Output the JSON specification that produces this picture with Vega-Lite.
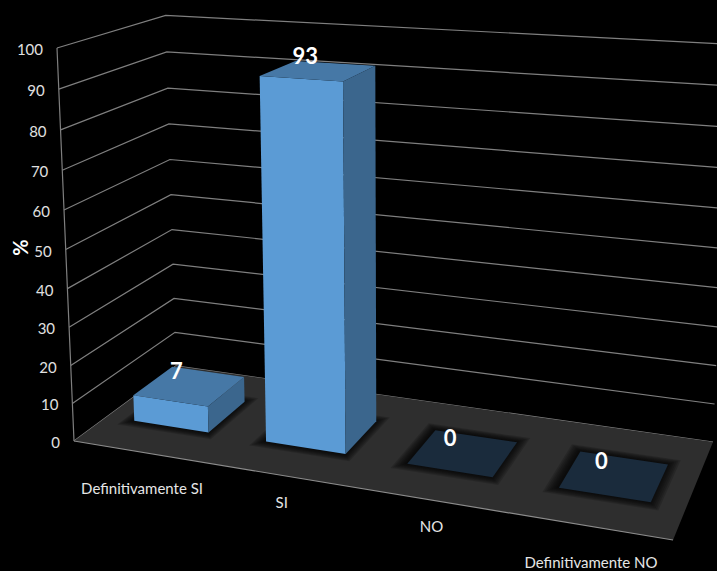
{
"$schema":"https://vega.github.io/schema/vega-lite/v6.json",
"width":717,"height":571,"padding":0,"autosize":{"type":"none"},
"background":"#000000",
"config":{"view":{"stroke":null},"text":{"font":"Lato"}},
"datasets":{
"marcas":[{"marca":0},{"marca":10},{"marca":20},{"marca":30},{"marca":40},{"marca":50},{"marca":60},{"marca":70},{"marca":80},{"marca":90},{"marca":100}],
"respuestas":[{"categoria":"Definitivamente SI","valor":7},{"categoria":"SI","valor":93},{"categoria":"NO","valor":0},{"categoria":"Definitivamente NO","valor":0}]
},
"encoding":{
"x":{"field":"px","type":"quantitative","scale":{"domain":[0,717]},"axis":null},
"y":{"field":"py","type":"quantitative","scale":{"domain":[571,0]},"axis":null}
},
"layer":[
{"data":{"name":"marcas"},
"transform":[
{"calculate":"[[0,0,0],[0,1,1],[1,1,2]]","as":"p"},{"flatten":["p"]},
{"calculate":"datum.p[0]","as":"u"},{"calculate":"datum.p[1]","as":"w"},{"calculate":"datum.p[2]","as":"o"},{"calculate":"datum.marca/100","as":"v"},
{"calculate":"(506.7*datum.u+124.1*datum.w+74-19.85*datum.v)/(1-0.1372*datum.u+0.1257*datum.w-0.05*datum.v)","as":"px"},
{"calculate":"(24.9*datum.u-29*datum.w+441-395.4*datum.v)/(1-0.1372*datum.u+0.1257*datum.w-0.05*datum.v)","as":"py"}],
"mark":{"type":"line","stroke":"#7f7f7f","strokeWidth":1.2,"clip":true},
"encoding":{"detail":{"field":"marca"},"order":{"field":"o","type":"quantitative"}}},
{"data":{"name":"marcas"},
"transform":[{"filter":"datum.marca===0"},
{"calculate":"[[0,0,0],[1,0,1],[1,1,2],[0,1,3]]","as":"p"},{"flatten":["p"]},
{"calculate":"datum.p[0]","as":"u"},{"calculate":"datum.p[1]","as":"w"},{"calculate":"datum.p[2]","as":"o"},{"calculate":"0","as":"v"},
{"calculate":"(506.7*datum.u+124.1*datum.w+74-19.85*datum.v)/(1-0.1372*datum.u+0.1257*datum.w-0.05*datum.v)","as":"px"},
{"calculate":"(24.9*datum.u-29*datum.w+441-395.4*datum.v)/(1-0.1372*datum.u+0.1257*datum.w-0.05*datum.v)","as":"py"}],
"mark":{"type":"line","fill":"#2e2e2e","strokeWidth":0,"clip":true},
"encoding":{"order":{"field":"o","type":"quantitative"}}},
{"data":{"name":"marcas"},
"transform":[{"filter":"datum.marca===0"},
{"calculate":"[[0,0,0],[1,0,1]]","as":"p"},{"flatten":["p"]},
{"calculate":"datum.p[0]","as":"u"},{"calculate":"datum.p[1]","as":"w"},{"calculate":"datum.p[2]","as":"o"},{"calculate":"0","as":"v"},
{"calculate":"(506.7*datum.u+124.1*datum.w+74-19.85*datum.v)/(1-0.1372*datum.u+0.1257*datum.w-0.05*datum.v)","as":"px"},
{"calculate":"(24.9*datum.u-29*datum.w+441-395.4*datum.v)/(1-0.1372*datum.u+0.1257*datum.w-0.05*datum.v)","as":"py"}],
"mark":{"type":"line","stroke":"#8c8c8c","strokeWidth":1.2,"clip":true},
"encoding":{"order":{"field":"o","type":"quantitative"}}},
{"data":{"name":"marcas"},
"transform":[{"calculate":"0","as":"u"},{"calculate":"0","as":"w"},{"calculate":"datum.marca/100","as":"v"},
{"calculate":"(506.7*datum.u+124.1*datum.w+74-19.85*datum.v)/(1-0.1372*datum.u+0.1257*datum.w-0.05*datum.v)","as":"px"},
{"calculate":"(24.9*datum.u-29*datum.w+441-395.4*datum.v)/(1-0.1372*datum.u+0.1257*datum.w-0.05*datum.v)","as":"py"}],
"mark":{"type":"line","stroke":"#7f7f7f","strokeWidth":1.2},
"encoding":{"order":{"field":"marca","type":"quantitative"}}},
{"data":{"name":"marcas"},
"transform":[{"calculate":"0","as":"u"},{"calculate":"0","as":"w"},{"calculate":"datum.marca/100","as":"v"},
{"calculate":"(506.7*datum.u+124.1*datum.w+74-19.85*datum.v)/(1-0.1372*datum.u+0.1257*datum.w-0.05*datum.v)","as":"px"},
{"calculate":"(24.9*datum.u-29*datum.w+441-395.4*datum.v)/(1-0.1372*datum.u+0.1257*datum.w-0.05*datum.v)","as":"py"}],
"mark":{"type":"text","align":"right","baseline":"middle","dx":-14,"dy":2,"fontSize":15,"fill":"#e0e0e0"},
"encoding":{"text":{"field":"marca","type":"quantitative"}}},
{"data":{"name":"marcas"},
"transform":[{"filter":"datum.marca===50"},{"calculate":"0","as":"u"},{"calculate":"0","as":"w"},{"calculate":"datum.marca/100","as":"v"},{"calculate":"'%'","as":"titulo"},
{"calculate":"(506.7*datum.u+124.1*datum.w+74-19.85*datum.v)/(1-0.1372*datum.u+0.1257*datum.w-0.05*datum.v)","as":"px"},
{"calculate":"(24.9*datum.u-29*datum.w+441-395.4*datum.v)/(1-0.1372*datum.u+0.1257*datum.w-0.05*datum.v)","as":"py"}],
"mark":{"type":"text","align":"center","baseline":"middle","angle":270,"dx":2,"dy":-44,"fontSize":20,"fontWeight":"bold","fill":"#ffffff"},
"encoding":{"text":{"field":"titulo"}}},
{"data":{"name":"respuestas"},
"transform":[
{"calculate":"indexof(['Definitivamente SI','SI','NO','Definitivamente NO'],datum.categoria)","as":"i"},
{"calculate":"[1,0.85,0.7,0.55,0.4,0.25,0.1]","as":"e"},{"flatten":["e"]},
{"calculate":"[[0,0,0],[1,0,1],[1,1,2],[0,1,3]]","as":"p"},{"flatten":["p"]},
{"calculate":"0.125+0.25*datum.i-0.0715+0.143*datum.p[0]+(2*datum.p[0]-1)*0.018*datum.e-0.002","as":"u"},
{"calculate":"0.3+0.39*datum.p[1]+(2*datum.p[1]-1)*0.065*datum.e","as":"w"},
{"calculate":"datum.p[2]","as":"o"},{"calculate":"0","as":"v"},
{"calculate":"(506.7*datum.u+124.1*datum.w+74-19.85*datum.v)/(1-0.1372*datum.u+0.1257*datum.w-0.05*datum.v)","as":"px"},
{"calculate":"(24.9*datum.u-29*datum.w+441-395.4*datum.v)/(1-0.1372*datum.u+0.1257*datum.w-0.05*datum.v)","as":"py"}],
"mark":{"type":"line","fill":"#000000","fillOpacity":0.16,"strokeWidth":0},
"encoding":{"detail":[{"field":"categoria"},{"field":"e"}],"order":{"field":"o","type":"quantitative"}}},
{"data":{"name":"respuestas"},
"transform":[
{"calculate":"indexof(['Definitivamente SI','SI','NO','Definitivamente NO'],datum.categoria)","as":"i"},
{"calculate":"[['frente',0,0,0,0],['frente',1,0,0,1],['frente',1,0,1,2],['frente',0,0,1,3],['lado',1,0,0,0],['lado',1,1,0,1],['lado',1,1,1,2],['lado',1,0,1,3],['techo',0,0,1,0],['techo',1,0,1,1],['techo',1,1,1,2],['techo',0,1,1,3]]","as":"p"},{"flatten":["p"]},
{"filter":"datum.valor>0||datum.p[0]==='techo'"},
{"calculate":"datum.valor>0?datum.p[0]:'techo vacio'","as":"cara"},
{"calculate":"0.125+0.25*datum.i-0.0715+0.143*datum.p[1]","as":"u"},
{"calculate":"0.3+0.39*datum.p[2]","as":"w"},
{"calculate":"datum.valor/100*datum.p[3]","as":"v"},
{"calculate":"datum.p[4]","as":"o"},
{"calculate":"(506.7*datum.u+124.1*datum.w+74-19.85*datum.v)/(1-0.1372*datum.u+0.1257*datum.w-0.05*datum.v)","as":"px"},
{"calculate":"(24.9*datum.u-29*datum.w+441-395.4*datum.v)/(1-0.1372*datum.u+0.1257*datum.w-0.05*datum.v)","as":"py"}],
"mark":{"type":"line","strokeWidth":0},
"encoding":{"detail":{"field":"categoria"},
"fill":{"field":"cara","type":"nominal","scale":{"domain":["frente","lado","techo","techo vacio"],"range":["#5b9bd5","#3b668d","#4678a6","#1a2b3c"]},"legend":null},
"order":{"field":"o","type":"quantitative"}}},
{"data":{"name":"respuestas"},
"transform":[
{"calculate":"indexof(['Definitivamente SI','SI','NO','Definitivamente NO'],datum.categoria)","as":"i"},
{"calculate":"0.125+0.25*datum.i","as":"u"},{"calculate":"0.495","as":"w"},{"calculate":"datum.valor/100","as":"v"},
{"calculate":"(506.7*datum.u+124.1*datum.w+74-19.85*datum.v)/(1-0.1372*datum.u+0.1257*datum.w-0.05*datum.v)","as":"px"},
{"calculate":"(24.9*datum.u-29*datum.w+441-395.4*datum.v)/(1-0.1372*datum.u+0.1257*datum.w-0.05*datum.v)","as":"py"}],
"mark":{"type":"text","align":"center","baseline":"middle","dx":-13,"dy":-14,"fontSize":22,"fontWeight":"bold","fill":"#ffffff"},
"encoding":{"text":{"field":"valor","type":"quantitative"}}},
{"data":{"name":"respuestas"},
"transform":[
{"calculate":"indexof(['Definitivamente SI','SI','NO','Definitivamente NO'],datum.categoria)","as":"i"},
{"calculate":"[0.197,0.42,0.66,0.905][datum.i]","as":"u"},{"calculate":"[-0.335,-0.24,-0.23,-0.3][datum.i]","as":"w"},{"calculate":"0","as":"v"},
{"calculate":"(506.7*datum.u+124.1*datum.w+74-19.85*datum.v)/(1-0.1372*datum.u+0.1257*datum.w-0.05*datum.v)","as":"px"},
{"calculate":"(24.9*datum.u-29*datum.w+441-395.4*datum.v)/(1-0.1372*datum.u+0.1257*datum.w-0.05*datum.v)","as":"py"}],
"mark":{"type":"text","align":"center","baseline":"middle","fontSize":15,"fill":"#e6e6e6"},
"encoding":{"text":{"field":"categoria"}}}
]
}
